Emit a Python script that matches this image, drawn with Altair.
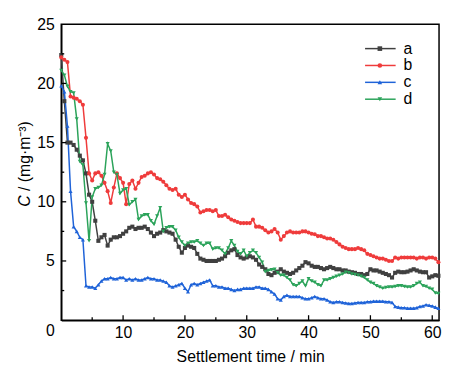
import altair as alt
import pandas as pd

series_names = ["a", "b", "c", "d"]
series_colors = ["#404040", "#ef3b3b", "#1f63d8", "#2ba35a"]
series_shapes = ["square", "circle", "triangle-up", "triangle-down"]
step_min = 0.5  # sampling interval (min)

a_vals = [22.4, 18.5, 15.0, 15.0, 14.8, 14.4, 13.9, 13.5, 12.4, 10.6,
          10.0, 8.4, 6.7, 7.0, 7.2, 6.3, 6.8, 7.0, 7.0, 7.1,
          7.3, 7.5, 7.8, 7.9, 7.7, 7.8, 7.8, 7.9, 7.7, 7.4,
          7.1, 7.3, 7.4, 7.6, 7.5, 7.4, 7.3, 6.8, 6.2, 5.7,
          6.1, 6.3, 6.2, 6.1, 5.6, 5.2, 5.1, 5.0, 5.0, 5.0,
          5.0, 5.1, 5.2, 5.4, 5.7, 5.9, 6.0, 5.5, 5.3, 5.2,
          5.3, 5.4, 5.3, 5.1, 4.7, 4.5, 4.3, 3.9, 3.8, 4.0,
          4.1, 4.3, 4.1, 4.0, 3.9, 4.0, 4.2, 4.4, 4.6, 4.9,
          4.8, 4.6, 4.5, 4.5, 4.4, 4.3, 4.4, 4.5, 4.4, 4.3,
          4.3, 4.2, 4.2, 4.1, 4.05, 4.0, 3.9, 3.9, 3.8, 3.9,
          4.3, 4.2, 4.2, 4.1, 4.0, 3.9, 3.8, 3.6, 4.0, 4.1,
          4.05, 4.05, 4.1, 4.2, 4.3, 4.2, 4.1, 4.05, 4.05, 3.6,
          3.7, 3.8, 3.75]

b_vals = [22.2, 22.0, 21.8, 18.9, 18.8, 18.7, 18.5, 18.2, 15.4, 12.4,
          11.8, 12.4, 12.5, 12.2, 11.6, 10.9, 9.9, 11.2, 12.4, 12.0,
          11.6, 9.8, 11.5, 11.8, 11.1, 11.6, 12.1, 12.2, 12.4, 12.5,
          12.3, 12.0, 11.9, 11.7, 11.4, 11.1, 11.0, 11.1, 10.6, 10.4,
          10.6, 10.2, 9.9, 9.8, 9.6, 9.1, 9.2, 9.3, 9.3, 9.2,
          9.3, 8.8, 8.8, 8.9, 8.7, 8.5, 8.4, 8.3, 8.2, 8.2,
          8.2, 8.2, 8.5, 7.9, 7.9, 7.8, 7.6, 7.4, 7.5, 7.7,
          7.4, 6.8, 7.1, 7.4, 7.5, 7.4, 7.4, 7.4, 7.5, 7.5,
          7.4, 7.3, 7.25, 7.1, 7.1, 7.0, 6.9, 6.9, 6.8, 6.6,
          6.4, 6.2, 6.1, 6.0, 6.0, 6.0, 6.1, 6.0, 5.9, 5.6,
          5.5, 5.4, 5.3, 5.2, 5.2, 5.1, 5.0, 5.0, 5.3, 5.2,
          5.3, 5.3, 5.3, 5.3, 5.3, 5.2, 5.3, 5.3, 5.2, 5.3,
          5.3, 5.2, 4.9]

c_vals = [19.8, 19.3, 16.4, 10.9, 7.9, 7.5, 7.0, 6.8, 2.9, 2.8,
          2.8, 2.7, 3.0, 3.3, 3.5, 3.5, 3.6, 3.5, 3.5, 3.6,
          3.6, 3.4, 3.5, 3.4, 3.5, 3.4, 3.4, 3.5, 3.6, 3.5,
          3.5, 3.4, 3.4, 3.3, 3.2, 2.9, 2.8, 2.9, 3.0, 3.1,
          2.7, 2.4, 3.0, 3.1, 3.0, 3.1, 3.2, 3.3, 3.4, 2.9,
          2.9, 2.8, 2.8, 2.7, 2.7, 2.6, 2.5, 2.6, 2.6, 2.7,
          2.7, 2.7, 2.7, 2.8, 2.8, 2.7, 2.7, 2.6, 2.4, 2.2,
          1.8, 1.7, 2.0, 2.1, 2.0, 2.0, 2.0, 2.0, 1.9, 1.8,
          1.8, 1.9, 2.0, 1.9, 1.8, 1.8, 1.7, 1.55, 1.5, 1.55,
          1.55, 1.5, 1.45, 1.4, 1.4, 1.45, 1.5, 1.5, 1.5, 1.55,
          1.55, 1.6, 1.6, 1.6, 1.6, 1.55, 1.55, 1.5, 1.15, 1.1,
          1.05, 1.05, 1.0, 1.0, 1.0, 1.05, 1.15, 1.2, 1.3, 1.25,
          1.2, 1.1, 1.0]

d_vals = [21.1, 20.7, 19.75, 19.3, 19.2, 17.0, 13.4, 13.1, 9.9, 6.7,
          10.4, 11.1, 11.2, 11.4, 12.3, 14.9, 14.3, 12.5, 12.3, 10.7,
          11.0, 11.1, 9.75, 10.0, 10.2, 8.5, 8.8, 8.9, 8.9, 8.4,
          8.1, 8.8, 9.5, 7.5, 7.8, 7.9, 7.9, 7.6, 7.0, 6.6,
          6.3, 6.5, 6.6, 6.6, 6.7, 6.5, 6.3, 6.5, 6.5, 6.0,
          6.1, 6.1, 5.9, 5.6, 6.1, 6.7, 6.3, 5.8, 5.6, 5.9,
          5.4, 5.7, 5.9, 5.7, 5.3, 4.9, 4.1, 4.2, 4.25, 4.3,
          4.0, 3.8, 3.8, 3.6, 3.4, 3.0, 2.9, 3.1, 3.3, 2.9,
          3.5, 3.3, 3.2, 3.0, 2.9, 3.4, 3.4, 3.5, 3.6, 3.7,
          3.8, 3.9, 4.05, 4.0, 3.9, 3.85, 3.8, 3.7, 3.6, 3.4,
          3.2, 3.1, 2.9, 2.8, 2.7, 2.75, 2.8, 2.8, 2.85, 2.9,
          2.9, 2.85, 2.8, 2.8, 2.9, 3.1, 3.2, 2.9, 2.85, 2.7,
          2.6, 2.3, 2.25]

x_tick_labels = [10, 20, 30, 40, 50, 60]
x_minor_ticks = [5, 15, 25, 35, 45, 55]
y_tick_labels = [0, 5, 10, 15, 20, 25]
y_major_ticks = [5, 10, 15, 20]
y_minor_ticks = [2.5, 7.5, 12.5, 17.5, 22.5]

rows = []
for name, vals in zip(series_names, [a_vals, b_vals, c_vals, d_vals]):
    for i, v in enumerate(vals):
        rows.append({"t": i * step_min, "C": v, "series": name})
df = pd.DataFrame(rows)

FONT = "Liberation Sans"
W, H = 383, 300

xs = alt.Scale(domain=[0, 61.1], nice=False, zero=False)
ys = alt.Scale(domain=[0, 25], nice=False)
color = alt.Color("series:N", scale=alt.Scale(domain=series_names, range=series_colors), legend=None)
shape = alt.Shape("series:N", scale=alt.Scale(domain=series_names, range=series_shapes), legend=None)

x_axis = alt.Axis(values=x_tick_labels, title="Settlement time / min", ticks=False, tickSize=0,
                  labelPadding=5, labelFontSize=16, labelFont=FONT, labelColor="black",
                  titleFont=FONT, titleFontSize=16, titleFontWeight="normal", titleColor="black",
                  titlePadding=8, grid=False, domainColor="black", domainWidth=1.5)
y_axis = alt.Axis(values=y_tick_labels, title=None, ticks=False, tickSize=0,
                  labelPadding=7, labelFontSize=16, labelFont=FONT, labelColor="black",
                  labelOffset={"condition": {"test": "datum.value === 0", "value": 11}, "value": 0},
                  grid=False, domainColor="black", domainWidth=1.5)

base = alt.Chart(df)
lines = base.mark_line(strokeWidth=1.5).encode(
    x=alt.X("t:Q", scale=xs, axis=x_axis),
    y=alt.Y("C:Q", scale=ys, axis=y_axis),
    color=color,
)
points = base.mark_point(filled=True, size=17, opacity=1).encode(
    x=alt.X("t:Q", scale=xs, axis=x_axis),
    y=alt.Y("C:Q", scale=ys, axis=None),
    color=color,
    shape=shape,
)

# inward ticks
xmaj = alt.Chart(pd.DataFrame({"v": x_tick_labels})).mark_rule(color="black", strokeWidth=1.3).encode(
    x=alt.X("v:Q", scale=xs, axis=x_axis), y=alt.value(H), y2=alt.value(H - 5))
xmin = alt.Chart(pd.DataFrame({"v": x_minor_ticks})).mark_rule(color="black", strokeWidth=1.3).encode(
    x=alt.X("v:Q", scale=xs, axis=x_axis), y=alt.value(H), y2=alt.value(H - 3))
ymaj = alt.Chart(pd.DataFrame({"v": y_major_ticks})).mark_rule(color="black", strokeWidth=1.3).encode(
    y=alt.Y("v:Q", scale=ys, axis=None), x=alt.value(0), x2=alt.value(5))
ymin = alt.Chart(pd.DataFrame({"v": y_minor_ticks})).mark_rule(color="black", strokeWidth=1.3).encode(
    y=alt.Y("v:Q", scale=ys, axis=None), x=alt.value(0), x2=alt.value(3))

# custom legend (line + marker)
leg_df = pd.DataFrame({"series": series_names})
ly = alt.Y("series:N", scale=alt.Scale(type="point", domain=series_names, range=[24.7, 76], padding=0),
           axis=None)
leg_line = alt.Chart(leg_df).mark_rule(strokeWidth=1.5).encode(
    x=alt.value(308), x2=alt.value(339), y=ly, color=color)
leg_pt = alt.Chart(leg_df).mark_point(filled=True, size=22, opacity=1).encode(
    x=alt.value(323), y=ly, color=color, shape=shape)
leg_txt = alt.Chart(leg_df).mark_text(align="left", baseline="middle", fontSize=16, font=FONT,
                                      color="black").encode(
    x=alt.value(347), y=ly, text="series:N")

# y-axis title with italic C
t1 = alt.Chart(pd.DataFrame({"s": ["C"]})).mark_text(
    angle=270, align="left", baseline="middle", fontSize=16, font=FONT, fontStyle="italic",
    color="black").encode(x=alt.value(-37), y=alt.value(185), text="s:N")
t2 = alt.Chart(pd.DataFrame({"s": ["/ (mg·m⁻³)"]})).mark_text(
    angle=270, align="left", baseline="middle", fontSize=16, font=FONT,
    color="black").encode(x=alt.value(-37), y=alt.value(169), text="s:N")

chart = alt.layer(
    lines, points, xmaj, xmin, ymaj, ymin, leg_line, leg_pt, leg_txt, t1, t2
).resolve_scale(y="independent").properties(
    width=W, height=H,
    autosize=alt.AutoSizeParams(type="none"),
    padding={"left": 54, "top": 14, "right": 3, "bottom": 43},
).configure_view(stroke="black", strokeWidth=1.5)

chart.save("out.html", embed_options={"renderer": "svg", "actions": False})
